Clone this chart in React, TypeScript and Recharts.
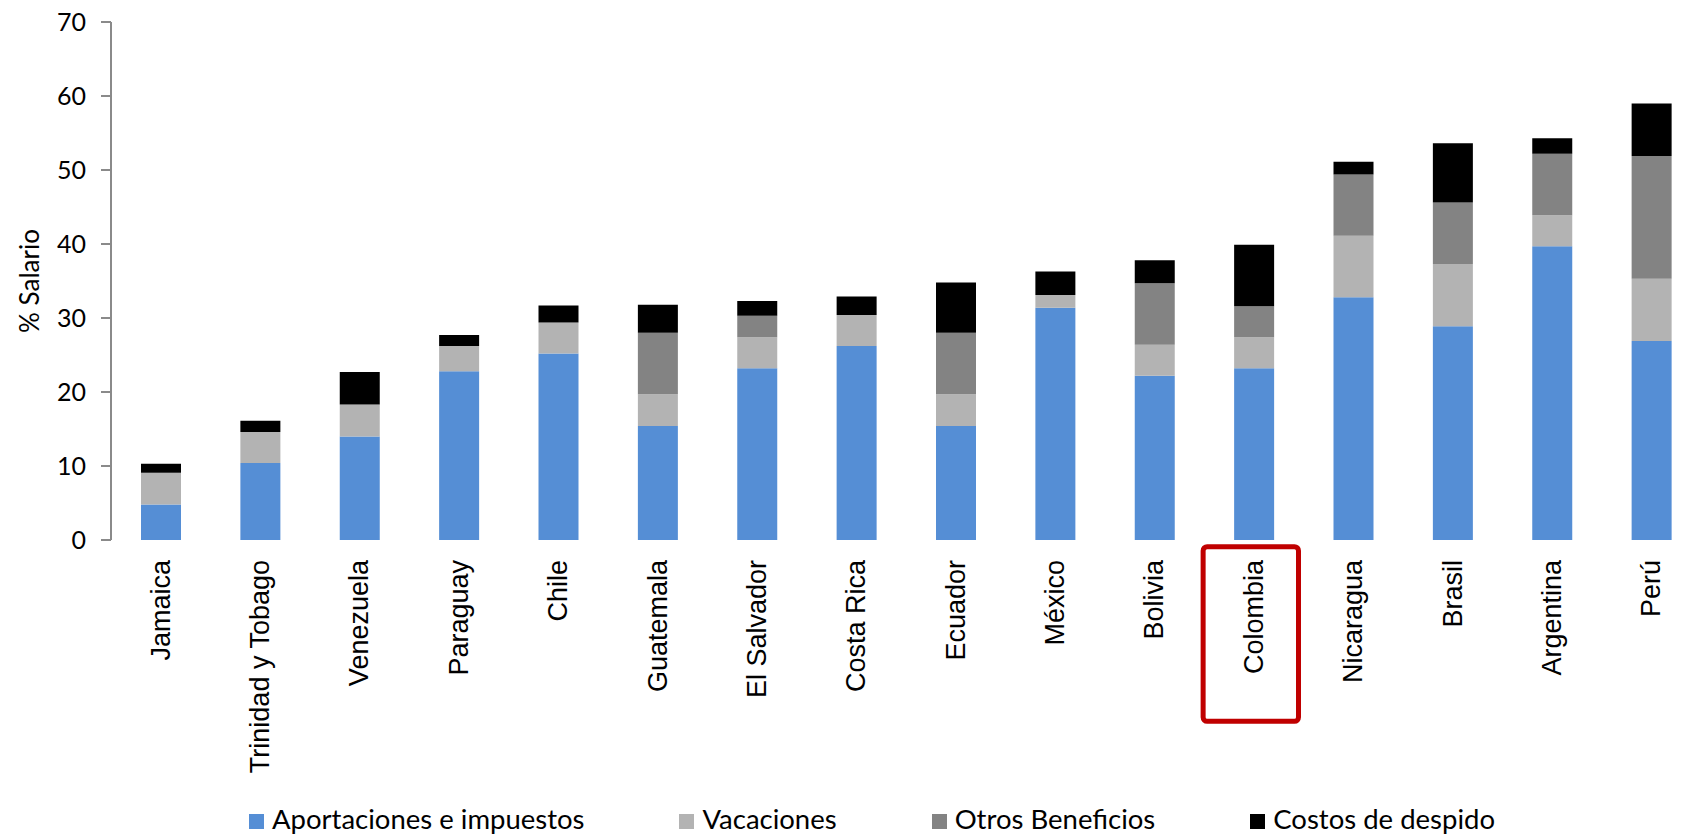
import React from 'react';
import { BarChart, Bar, XAxis, YAxis, Legend, ReferenceArea, Rectangle } from 'recharts';

const categories = ['Jamaica', 'Trinidad y Tobago', 'Venezuela', 'Paraguay', 'Chile', 'Guatemala', 'El Salvador', 'Costa Rica', 'Ecuador', 'México', 'Bolivia', 'Colombia', 'Nicaragua', 'Brasil', 'Argentina', 'Perú'];
const aportaciones = [4.8, 10.4, 14.0, 22.8, 25.2, 15.4, 23.2, 26.2, 15.4, 31.4, 22.2, 23.2, 32.8, 28.9, 39.7, 26.9];
const vacaciones = [4.3, 4.2, 4.3, 3.4, 4.2, 4.3, 4.2, 4.2, 4.3, 1.7, 4.2, 4.2, 8.3, 8.4, 4.2, 8.4];
const otrosBeneficios = [0, 0, 0, 0, 0, 8.3, 2.9, 0, 8.3, 0, 8.3, 4.2, 8.3, 8.3, 8.3, 16.6];
const costosDespido = [1.2, 1.5, 4.4, 1.5, 2.3, 3.8, 2.0, 2.5, 6.8, 3.2, 3.1, 8.3, 1.7, 8.0, 2.1, 7.1];
const yTicks = [0, 10, 20, 30, 40, 50, 60, 70];
const seriesKeys = ['aport', 'vac', 'otros', 'desp'];
const seriesNames = ['Aportaciones e impuestos', 'Vacaciones', 'Otros Beneficios', 'Costos de despido'];
const seriesColors = ['#558ED5', '#B3B3B3', '#838383', '#000000'];
const highlighted = 'Colombia';

const data = categories.map((name, i) => ({
  name,
  aport: aportaciones[i],
  vac: vacaciones[i],
  otros: otrosBeneficios[i],
  desp: costosDespido[i],
}));
const edgeTicks = [...categories.map((_, i) => i), categories.length];

const FONT = 'Lato, "Open Sans", sans-serif';
const ARIAL = '"Liberation Sans", Arial, sans-serif';
const AXIS = '#8a8a8a';

const XTick = (props: any) => {
  const { x, y, payload } = props;
  return (
    <text
      x={x}
      y={y}
      transform={`rotate(-90, ${x}, ${y})`}
      textAnchor="end"
      dominantBaseline="central"
      fontFamily={ARIAL}
      fontSize={27}
      fill="#000"
    >
      {payload.value}
    </text>
  );
};

const renderLegend = () => (
  <div style={{ display: 'flex', alignItems: 'center', height: 44, paddingLeft: 249, paddingTop: 14, boxSizing: 'border-box', fontFamily: FONT, fontSize: 27.5 }}>
    {seriesNames.map((n, i) => (
      <div key={n} style={{ display: 'flex', alignItems: 'center', marginRight: 95, lineHeight: '30px' }}>
        <span style={{ display: 'inline-block', width: 15, height: 15, background: seriesColors[i], marginRight: 8, marginTop: 4 }} />
        <span style={{ color: '#000', whiteSpace: 'nowrap' }}>{n}</span>
      </div>
    ))}
  </div>
);

const HighlightShape = (p: any) => (
  <Rectangle {...p} x={p.x - 1} width={p.width - 4} />
);

export default function App() {
  return (
    <div style={{ position: 'absolute', left: 0, top: 0, width: 1686, height: 834, overflow: 'hidden', background: '#fff' }}>
      <BarChart width={1720} height={834} data={data} margin={{ top: 22, right: 19, left: 0, bottom: 0 }}>
        <XAxis
          xAxisId="edge"
          type="number"
          domain={[0, categories.length]}
          ticks={edgeTicks}
          allowDataOverflow
          tick={false}
          tickSize={10}
          height={0}
          axisLine={{ stroke: AXIS, strokeWidth: 2 }}
          tickLine={{ stroke: AXIS, strokeWidth: 2 }}
        />
        <XAxis
          xAxisId="cat"
          dataKey="name"
          interval={0}
          axisLine={false}
          tickLine={false}
          tickSize={10}
          tickMargin={10}
          height={250}
          tick={<XTick />}
        />
        <YAxis
          domain={[0, 70]}
          ticks={yTicks}
          width={111}
          tickSize={10}
          tickMargin={15}
          axisLine={{ stroke: AXIS, strokeWidth: 2 }}
          tickLine={{ stroke: AXIS, strokeWidth: 2 }}
          tick={{ fontFamily: FONT, fontSize: 25, fill: '#000' }}
          label={{ value: '% Salario', angle: -90, position: 'center', dx: -26, style: { fontFamily: FONT, fontSize: 26, fill: '#000' } }}
        />
        {seriesKeys.map((k, i) => (
          <Bar key={k} xAxisId="cat" dataKey={k} name={seriesNames[i]} stackId="a" fill={seriesColors[i]} barSize={40} isAnimationActive={false} />
        ))}
        <ReferenceArea
          xAxisId="cat"
          x1={highlighted}
          x2={highlighted}
          y1={-0.9}
          y2={-24.5}
          ifOverflow="visible"
          fill="none"
          fillOpacity={0}
          stroke="#C00000"
          strokeWidth={5}
          radius={4}
          shape={<HighlightShape />}
        />
        <Legend verticalAlign="bottom" align="left" height={44} content={renderLegend} />
      </BarChart>
    </div>
  );
}
